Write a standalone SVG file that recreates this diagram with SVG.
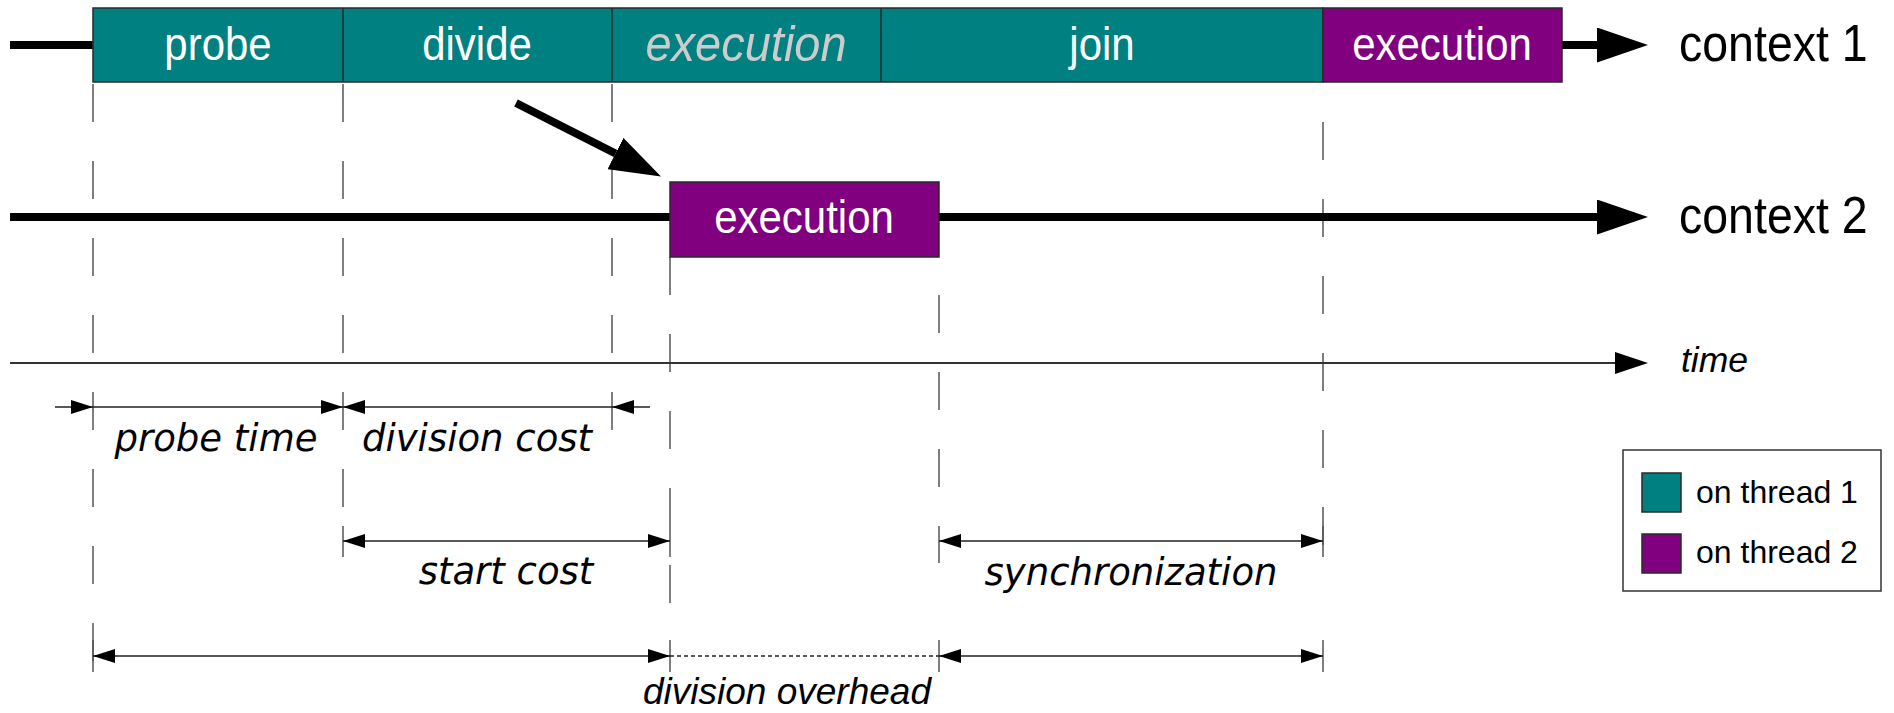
<svg xmlns="http://www.w3.org/2000/svg" width="1894" height="713" viewBox="0 0 1894 713">
  <style>
    .bar { stroke: #2a2a2a; stroke-width: 1.5; }
    .t1 { fill: #008080; }
    .t2 { fill: #800080; }
    .lbl { font-family: "Liberation Sans", Arial, sans-serif; font-size: 42px; fill: #ffffff; text-anchor: middle; }
    .ghost { font-family: "Liberation Sans", Arial, sans-serif; font-style: italic; font-size: 47px; fill: #cccccc; text-anchor: middle; }
    .ctx { font-family: "Liberation Sans", Arial, sans-serif; font-size: 46.5px; fill: #000000; }
    .dim { font-family: "DejaVu Sans", sans-serif; font-style: italic; font-size: 37px; fill: #000000; text-anchor: middle; }
    .ital { font-family: "Liberation Sans", Arial, sans-serif; font-style: italic; fill: #000000; }
    .leg { font-family: "Liberation Sans", Arial, sans-serif; font-size: 32px; fill: #000000; }
    .thick { stroke: #000000; stroke-width: 8; fill: none; }
    .guide { stroke: #555555; stroke-width: 1.5; stroke-dasharray: 38 39; fill: none; }
    .tick { stroke: #555555; stroke-width: 1.5; fill: none; }
    .dline { stroke: #222222; stroke-width: 1.5; fill: none; }
  </style>
  <defs>
    <marker id="bigHead" viewBox="0 -17.5 51 35" refX="0" refY="0" markerWidth="51" markerHeight="35" markerUnits="userSpaceOnUse" orient="auto">
      <path d="M0,-17.5 L51,0 L0,17.5 z" fill="#000000"/>
    </marker>
    <marker id="axisHead" viewBox="0 -11 33 22" refX="0" refY="0" markerWidth="33" markerHeight="22" markerUnits="userSpaceOnUse" orient="auto">
      <path d="M0,-11 L33,0 L0,11 z" fill="#000000"/>
    </marker>
    <marker id="dimHead" viewBox="0 0 22 14" refX="22" refY="7" markerWidth="22" markerHeight="14" markerUnits="userSpaceOnUse" orient="auto-start-reverse">
      <path d="M0,0 L22,7 L0,14 z" fill="#000000"/>
    </marker>
  </defs>

  <!-- dashed time guides -->
  <g id="guides">
    <line class="guide" x1="93" y1="84" x2="93" y2="661"/>
    <line class="guide" x1="343" y1="84" x2="343" y2="507"/>
    <line class="guide" x1="612" y1="84" x2="612" y2="430"/>
    <line class="guide" x1="670" y1="257" x2="670" y2="603"/>
    <line class="guide" x1="939" y1="295" x2="939" y2="563"/>
    <line class="guide" x1="1323" y1="122" x2="1323" y2="545"/>
    <!-- end ticks of the measurement rows -->
    <line class="tick" x1="343" y1="526" x2="343" y2="557"/>
    <line class="tick" x1="670" y1="526" x2="670" y2="557"/>
    <line class="tick" x1="1323" y1="526" x2="1323" y2="557"/>
    <line class="tick" x1="93" y1="640" x2="93" y2="672"/>
    <line class="tick" x1="670" y1="640" x2="670" y2="672"/>
    <line class="tick" x1="939" y1="640" x2="939" y2="672"/>
    <line class="tick" x1="1323" y1="640" x2="1323" y2="672"/>
  </g>

  <!-- timelines, hand-off arrow and time axis -->
  <g id="connectors">
    <line class="thick" x1="10" y1="45" x2="93" y2="45"/>
    <line class="thick" x1="1562" y1="45" x2="1597" y2="45" marker-end="url(#bigHead)"/>
    <line class="thick" x1="10" y1="217" x2="670" y2="217"/>
    <line class="thick" x1="939" y1="217" x2="1597" y2="217" marker-end="url(#bigHead)"/>
    <line class="thick" x1="516" y1="103" x2="615.5" y2="153.5" marker-end="url(#bigHead)"/>
    <line x1="10" y1="363" x2="1615" y2="363" stroke="#333333" stroke-width="2" marker-end="url(#axisHead)"/>
  </g>

  <!-- context 1 -->
  <g id="context1">
    <rect class="bar t1" x="93" y="8" width="1230" height="74"/>
    <line class="bar" x1="343" y1="8" x2="343" y2="82"/>
    <line class="bar" x1="612" y1="8" x2="612" y2="82"/>
    <line class="bar" x1="881" y1="8" x2="881" y2="82"/>
    <rect class="bar t2" x="1323" y="8" width="239" height="74"/>
    <text class="lbl" transform="translate(218 60) scale(1 1.1)">probe</text>
    <text class="lbl" transform="translate(477 60) scale(1 1.1)">divide</text>
    <text class="ghost" transform="translate(746 61) scale(1 1.08)">execution</text>
    <text class="lbl" transform="translate(1102 60) scale(1 1.1)">join</text>
    <text class="lbl" transform="translate(1442 60) scale(1 1.1)">execution</text>
    <text class="ctx" transform="translate(1679 61) scale(1 1.1)">context 1</text>
  </g>

  <!-- context 2 -->
  <g id="context2">
    <rect class="bar t2" x="670" y="182" width="269" height="75"/>
    <text class="lbl" transform="translate(804 233) scale(1 1.1)">execution</text>
    <text class="ctx" transform="translate(1679 233) scale(1 1.1)">context 2</text>
  </g>

  <g id="time-label">
    <text class="ital" x="1681" y="372" font-size="35.5">time</text>
  </g>

  <!-- probe time / division cost -->
  <g id="row-probe-division">
    <line class="dline" x1="55" y1="407" x2="93" y2="407" marker-end="url(#dimHead)"/>
    <line class="dline" x1="93" y1="407" x2="343" y2="407" marker-end="url(#dimHead)"/>
    <line class="dline" x1="650" y1="407" x2="612" y2="407" marker-end="url(#dimHead)"/>
    <line class="dline" x1="612" y1="407" x2="343" y2="407" marker-end="url(#dimHead)"/>
    <text class="dim" x="216" y="451">probe time</text>
    <text class="dim" x="477" y="451">division cost</text>
  </g>

  <!-- start cost -->
  <g id="row-start">
    <line class="dline" x1="343" y1="541" x2="670" y2="541" marker-start="url(#dimHead)" marker-end="url(#dimHead)"/>
    <text class="dim" x="506" y="584">start cost</text>
  </g>

  <!-- synchronization -->
  <g id="row-sync">
    <line class="dline" x1="939" y1="541" x2="1323" y2="541" marker-start="url(#dimHead)" marker-end="url(#dimHead)"/>
    <text class="dim" x="1131" y="585">synchronization</text>
  </g>

  <!-- division overhead -->
  <g id="row-overhead">
    <line class="dline" x1="93" y1="656" x2="670" y2="656" marker-start="url(#dimHead)" marker-end="url(#dimHead)"/>
    <line class="dline" x1="670" y1="656" x2="939" y2="656" stroke-dasharray="4 3"/>
    <line class="dline" x1="939" y1="656" x2="1323" y2="656" marker-start="url(#dimHead)" marker-end="url(#dimHead)"/>
    <text class="ital" x="787" y="704" font-size="37" text-anchor="middle">division overhead</text>
  </g>

  <!-- legend -->
  <g id="legend">
    <rect x="1623" y="450" width="258" height="141" fill="#ffffff" stroke="#333333" stroke-width="1.5"/>
    <rect class="bar t1" x="1642" y="473" width="39" height="39"/>
    <rect class="bar t2" x="1642" y="534" width="39" height="39"/>
    <text class="leg" x="1696" y="503">on thread 1</text>
    <text class="leg" x="1696" y="563">on thread 2</text>
  </g>
</svg>
